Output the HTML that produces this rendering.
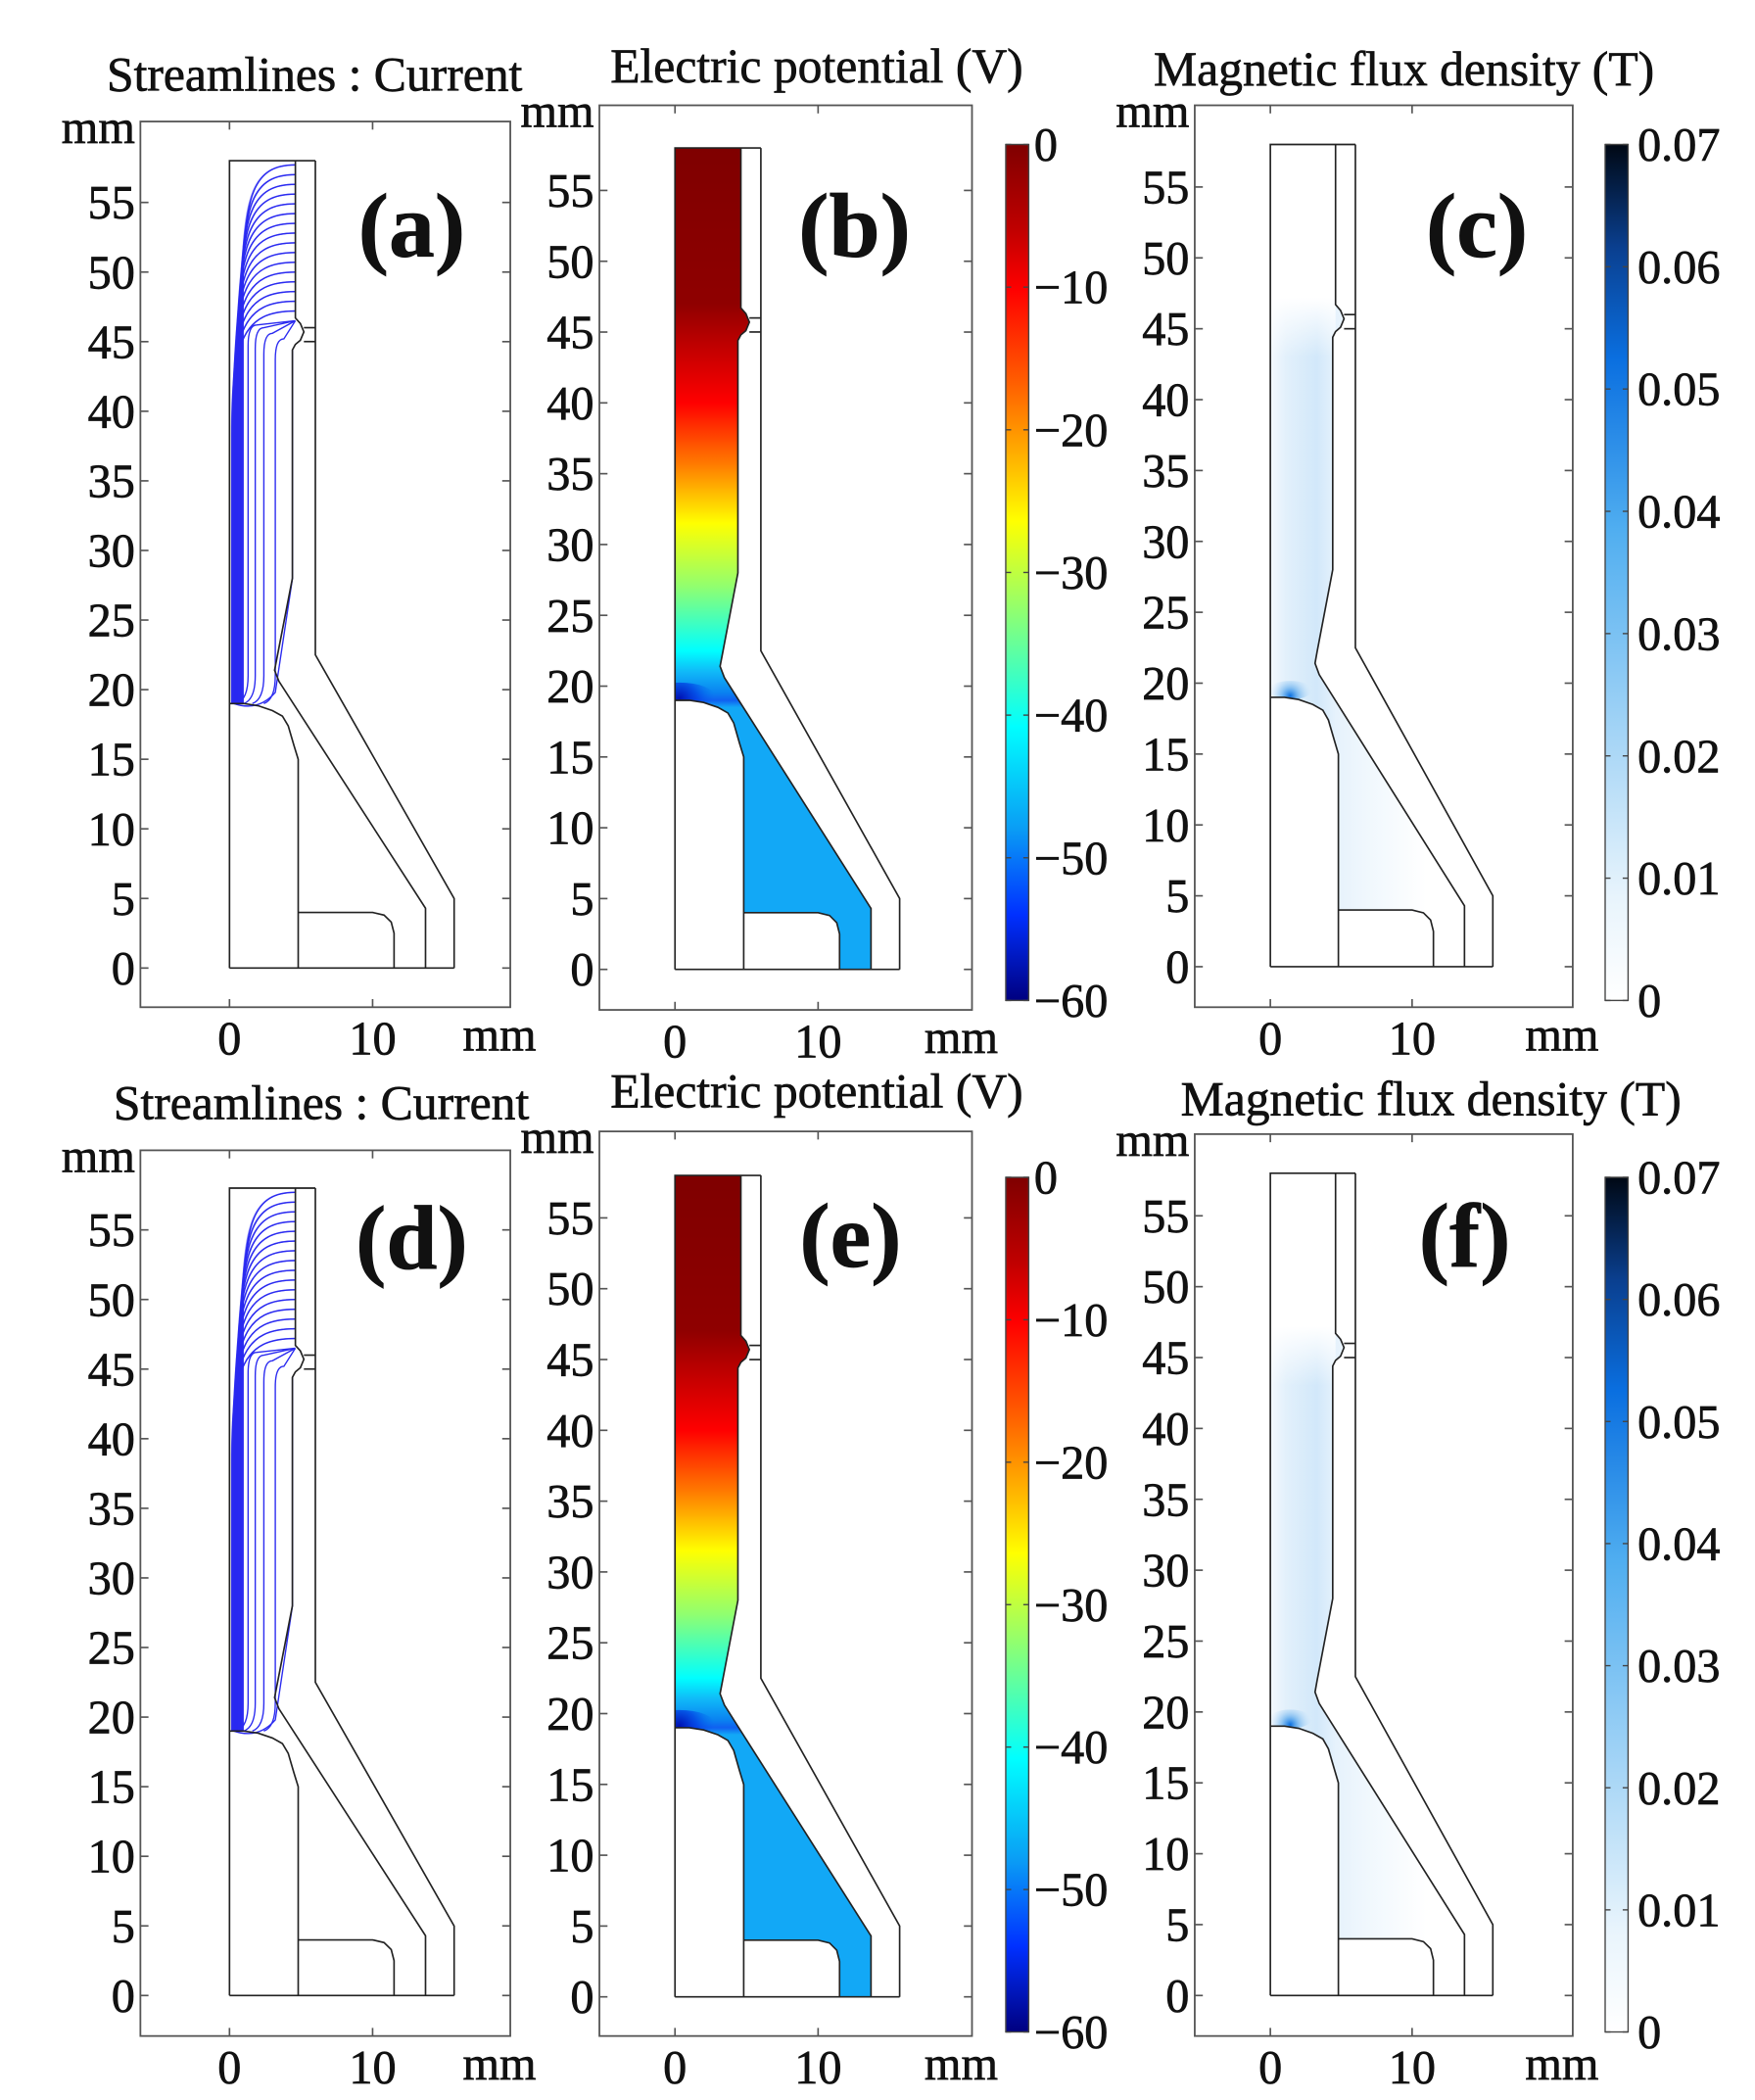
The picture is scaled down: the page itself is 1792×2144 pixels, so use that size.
<!DOCTYPE html>
<html><head><meta charset="utf-8"><style>
html,body{margin:0;padding:0;background:#fff;}
svg{display:block;}
text{font-family:"Liberation Serif",serif;fill:#111;stroke:#111;stroke-width:0.5;}
</style></head>
<body>
<svg id="fig" width="1792" height="2144" viewBox="0 0 1300 1555.4" preserveAspectRatio="none" xmlns="http://www.w3.org/2000/svg">
<defs>
<linearGradient id="jetbar" x1="0" y1="0" x2="0" y2="1">
<stop offset="0" stop-color="#7f0000"/><stop offset="0.1" stop-color="#c00000"/><stop offset="0.17" stop-color="#ff0000"/>
<stop offset="0.28" stop-color="#ff6000"/><stop offset="0.38" stop-color="#ffc000"/><stop offset="0.44" stop-color="#ffff00"/>
<stop offset="0.56" stop-color="#80ff80"/><stop offset="0.68" stop-color="#00ffff"/><stop offset="0.8" stop-color="#0a9cf5"/>
<stop offset="0.9" stop-color="#0030ff"/><stop offset="1" stop-color="#000080"/></linearGradient>
<linearGradient id="bluebar" x1="0" y1="0" x2="0" y2="1">
<stop offset="0" stop-color="#000814"/><stop offset="0.12" stop-color="#0a3f8f"/><stop offset="0.25" stop-color="#0a6fe0"/>
<stop offset="0.45" stop-color="#50aef0"/><stop offset="0.7" stop-color="#a8d6f6"/><stop offset="0.88" stop-color="#e8f4fc"/><stop offset="1" stop-color="#ffffff"/></linearGradient>
</defs>
</svg>
<script>
const NS='http://www.w3.org/2000/svg';
const svg=document.getElementById('fig');
const defs=svg.querySelector('defs');
const yTicks=[0,5,10,15,20,25,30,35,40,45,50,55];
const xTicks=[0,10];
const potTicks=[0,-10,-20,-30,-40,-50,-60];
const fluxTicks=[0.07,0.06,0.05,0.04,0.03,0.02,0.01,0];
const streamEndY=[57.7,57,56.3,55.6,54.9,54.2,53.5,52.8,52.1,51.4,50.7,50,49.3,48.6,47.9,47.2];
const streamStartX=[0.95,0.88,0.81,0.75,0.69,0.63,0.57,0.52,0.47,0.42,0.37,0.33,0.29,0.25,0.21,0.17];
const denseStartX=[0.9,0.84,0.78,0.72,0.66,0.6,0.55,0.5,0.45,0.4,0.35,0.31,0.27,0.23,0.19,0.15];
const innerStreamX=[1.3,1.8,2.4,3.2];
const innerStreamTop=[46.2,46.0,45.6,45.2];

function el(tag,attrs,parent){const e=document.createElementNS(NS,tag);for(const k in attrs)e.setAttribute(k,attrs[k]);(parent||svg).appendChild(e);return e;}
function txt(x,y,s,size,parent,anchor,weight){const t=el('text',{x:x,y:y,'font-size':size,'text-anchor':anchor||'start','font-weight':weight||'normal'},parent);t.textContent=s;return t;}

const electrode=[[0,19],[1,19],[2,18.85],[3,18.5],[3.7,18.1],[4.1,17.4],[4.5,16],[4.8,15],[4.8,4]];
const bottomRect=[[4.8,4],[10,4],[10.8,3.8],[11.3,3.3],[11.5,2.5],[11.5,0]];
const innerB=[[4.6,58],[4.6,46.7],[4.95,46.3],[5.2,45.7],[4.95,45.1],[4.6,44.8],[4.4,44.4],[4.4,28],[3.3,22.2],[3.15,21.4],[3.45,20.6],[13.7,4.3],[13.7,0]];
const outerB=[[6,58],[6,22.5],[15.7,5],[15.7,0]];

function makePanel(P){
  const g=el('g',{});
  
  
  const X=v=>P.X0+v*P.kx, Y=v=>P.Y0-v*P.ky;
  const pts=a=>a.map(p=>X(p[0]).toFixed(1)+','+Y(p[1]).toFixed(1)).join(' ');
  const t=txt(P.tx,P.ty,P.title,36,g,'middle');
  
  
  const box=el('rect',{x:P.bx0,y:P.by0,width:P.bx1-P.bx0,height:P.by1-P.by0,fill:'none',stroke:'#555','stroke-width':1.3},g);
  
  
  yTicks.forEach(v=>{
    el('line',{x1:P.bx0,x2:P.bx0+6,y1:Y(v),y2:Y(v),stroke:'#555','stroke-width':1.2},g);
    el('line',{x1:P.bx1,x2:P.bx1-6,y1:Y(v),y2:Y(v),stroke:'#555','stroke-width':1.2},g);
    const l=txt(P.bx0-4,Y(v)+12,String(v),35,g,'end');
    
    
  });
  xTicks.forEach(v=>{
    el('line',{x1:X(v),x2:X(v),y1:P.by0,y2:P.by0+6,stroke:'#555','stroke-width':1.2},g);
    el('line',{x1:X(v),x2:X(v),y1:P.by1,y2:P.by1-6,stroke:'#555','stroke-width':1.2},g);
    const l=txt(X(v),P.by1+35,String(v),35,g,'middle');
    
    
  });
  const ym=txt(P.bx0-4,P.by0+16,'mm',35,g,'end');
  
  
  const xm=txt(P.bx1-8,P.by1+32,'mm',35,g,'middle');
  
  

  const region=[[0,58]].concat(innerB,[[11.5,0]],bottomRect.slice().reverse().slice(1),electrode.slice().reverse());
  const cid='clip'+P.id;
  const cp=el('clipPath',{id:cid},defs);
  el('polygon',{points:pts(region)},cp);
  if(P.type==='pot'){
    const gid='jet'+P.id, rid='jr'+P.id;
    const lg=el('linearGradient',{id:gid,gradientUnits:'userSpaceOnUse',x1:0,x2:0,y1:Y(58),y2:Y(0)},defs);
    const stops=[[58,'#7f0000'],[47,'#8f0000'],[44,'#c00000'],[40,'#ff0000'],[35.5,'#ff8000'],[31.5,'#ffff00'],[27,'#90ff70'],[22.5,'#00ffff'],[21,'#10b8f8'],[19.5,'#0a80f0'],[19,'#1060f0'],[18.5,'#12a8f6'],[0,'#12a8f6']];
    stops.forEach(s=>el('stop',{offset:((58-s[0])/58).toFixed(4),'stop-color':s[1]},lg));
    const f=el('polygon',{points:pts(region),fill:'url(#'+gid+')',stroke:'none'},g);
    
    
    const r=el('radialGradient',{id:rid,gradientUnits:'userSpaceOnUse',cx:X(0.3),cy:Y(19.1),r:26},defs);
    el('stop',{offset:0,'stop-color':'#0010b0','stop-opacity':1},r);
    el('stop',{offset:0.5,'stop-color':'#0030e0','stop-opacity':0.6},r);
    el('stop',{offset:1,'stop-color':'#0060f0','stop-opacity':0},r);
    el('ellipse',{cx:X(0.3),cy:Y(19.3),rx:26,ry:10,fill:'url(#'+rid+')','clip-path':'url(#'+cid+')'},g);
  }
  if(P.type==='flux'){
    const hid='fh'+P.id, vid='fv'+P.id, rid='fr'+P.id;
    const h=el('linearGradient',{id:hid,gradientUnits:'userSpaceOnUse',x1:X(0),x2:X(11),y1:0,y2:0},defs);
    [[0,'#f4f9fe'],[0.1,'#e2f0fb'],[0.3,'#d2e8fa'],[0.42,'#e6f2fc'],[0.6,'#eff7fd'],[1,'#ffffff']].forEach(s=>el('stop',{offset:s[0],'stop-color':s[1]},h));
    const f=el('polygon',{points:pts(region),fill:'url(#'+hid+')',stroke:'none'},g);
    
    
    const v=el('linearGradient',{id:vid,gradientUnits:'userSpaceOnUse',x1:0,x2:0,y1:Y(58),y2:Y(43)},defs);
    el('stop',{offset:0,'stop-color':'#fff','stop-opacity':1},v);
    el('stop',{offset:0.72,'stop-color':'#fff','stop-opacity':1},v);
    el('stop',{offset:1,'stop-color':'#fff','stop-opacity':0},v);
    el('rect',{x:X(0),y:Y(58),width:X(4.6)-X(0),height:Y(43)-Y(58),fill:'url(#'+vid+')'},g);
    const r=el('radialGradient',{id:rid,gradientUnits:'userSpaceOnUse',cx:X(1.4),cy:Y(19.1),r:16},defs);
    el('stop',{offset:0,'stop-color':'#0a6fe0','stop-opacity':1},r);
    el('stop',{offset:0.4,'stop-color':'#3a98ea','stop-opacity':0.5},r);
    el('stop',{offset:1,'stop-color':'#bfe0f8','stop-opacity':0},r);
    el('ellipse',{cx:X(1.4),cy:Y(19.5),rx:16,ry:7,fill:'url(#'+rid+')','clip-path':'url(#'+cid+')'},g);
  }
  if(P.type==='stream'){
    const fan=(sx,ye,w,op)=>{
      const d='M'+X(sx)+','+Y(19)+' L'+X(sx)+','+Y(ye-9)+' C'+X(sx)+','+Y(ye-2)+' '+X(sx+0.8)+','+Y(ye)+' '+X(4.6)+','+Y(ye);
      const p=el('path',{d:d,fill:'none',stroke:'#2a2af0','stroke-width':w,opacity:op},g);
      
      
    };
    streamEndY.forEach((ye,i)=>fan(streamStartX[i],ye,1,1));
    streamEndY.forEach((ye,i)=>fan(denseStartX[i],ye,1.1,0.55));
    innerStreamX.forEach((xv,i)=>{
      const top=innerStreamTop[i];
      const d='M'+X(Math.max(xv-0.8,0.3))+','+Y(19)+' Q'+X(xv)+','+Y(19.3)+' '+X(xv)+','+Y(21)+' L'+X(xv)+','+Y(top-1.5)+' Q'+X(xv)+','+Y(top)+' '+X(xv+0.6)+','+Y(top)+' L'+X(4.6)+','+Y(46.5);
      const p=el('path',{d:d,fill:'none',stroke:'#2a2af0','stroke-width':1},g);
      
      
    });
    el('path',{d:'M'+X(0.3)+','+Y(19)+' Q'+X(2)+','+Y(18.4)+' '+X(3.2)+','+Y(19.8)+' L'+X(4.4)+','+Y(28)+' L'+X(4.4)+','+Y(44.4),fill:'none',stroke:'#2a2af0','stroke-width':1},g);
  }
  const lines=[ [[0,0],[0,58],[6,58]], electrode.concat([[4.8,0]]), bottomRect, innerB, outerB, [[0,0],[15.7,0]], [[5.2,46],[6,46]], [[5.2,45],[6,45]] ];
  lines.forEach(a=>{
    const l=el('polyline',{points:pts(a),fill:'none',stroke:'#222','stroke-width':1.2},g);
    
    
  });
  const lab=txt(P.lx,P.ly,'('+P.id+')',68,g,'middle','bold');
  
  

  if(P.cb){
    const cb=el('rect',{x:P.cbx,y:P.cby0,width:17,height:P.cby1-P.cby0,fill:P.type==='pot'?'url(#jetbar)':'url(#bluebar)',stroke:'#444','stroke-width':1},g);
    
    
    const ticks=P.type==='pot'?potTicks:fluxTicks;
    const n=ticks.length-1;
    ticks.forEach((v,i)=>{
      const yy=P.cby0+(P.cby1-P.cby0)*i/n;
      el('line',{x1:P.cbx,x2:P.cbx+4,y1:yy,y2:yy,stroke:'#444'},g);
      el('line',{x1:P.cbx+13,x2:P.cbx+17,y1:yy,y2:yy,stroke:'#444'},g);
      const s=P.type==='pot'?(v<0?'\u2212'+(-v):'0'):(v===0?'0':v.toFixed(2));
      const l=txt(P.cbx+(P.type==='pot'?21:24),yy+12,s,35,g,'start');
      
      
    });
  }
}
const panels=[
 {id:'a',type:'stream',title:'Streamlines : Current',tx:233,ty:67,X0:170,kx:10.6,Y0:717,ky:10.31,bx0:104,by0:90,bx1:378,by1:746,lx:305,ly:190},
 {id:'b',type:'pot',title:'Electric potential (V)',tx:605,ty:61,X0:500,kx:10.6,Y0:718,ky:10.49,bx0:444,by0:78,bx1:720,by1:748,lx:633,ly:190,cb:true,cbx:745,cby0:107,cby1:741},
 {id:'c',type:'flux',title:'Magnetic flux density (T)',tx:1040,ty:63,X0:941,kx:10.5,Y0:716,ky:10.5,bx0:885,by0:78,bx1:1165,by1:746,lx:1094,ly:190,cb:true,cbx:1189,cby0:107,cby1:741},
 {id:'d',type:'stream',title:'Streamlines : Current',tx:238,ty:829,X0:170,kx:10.6,Y0:1478,ky:10.31,bx0:104,by0:852,bx1:378,by1:1508,lx:305,ly:940},
 {id:'e',type:'pot',title:'Electric potential (V)',tx:605,ty:820,X0:500,kx:10.6,Y0:1479,ky:10.49,bx0:444,by0:838,bx1:720,by1:1508,lx:630,ly:938,cb:true,cbx:745,cby0:872,cby1:1505},
 {id:'f',type:'flux',title:'Magnetic flux density (T)',tx:1060,ty:826,X0:941,kx:10.5,Y0:1478,ky:10.5,bx0:885,by0:840,bx1:1165,by1:1508,lx:1085,ly:938,cb:true,cbx:1189,cby0:872,cby1:1505}
];
panels.forEach(makePanel);
</script>
</body></html>
